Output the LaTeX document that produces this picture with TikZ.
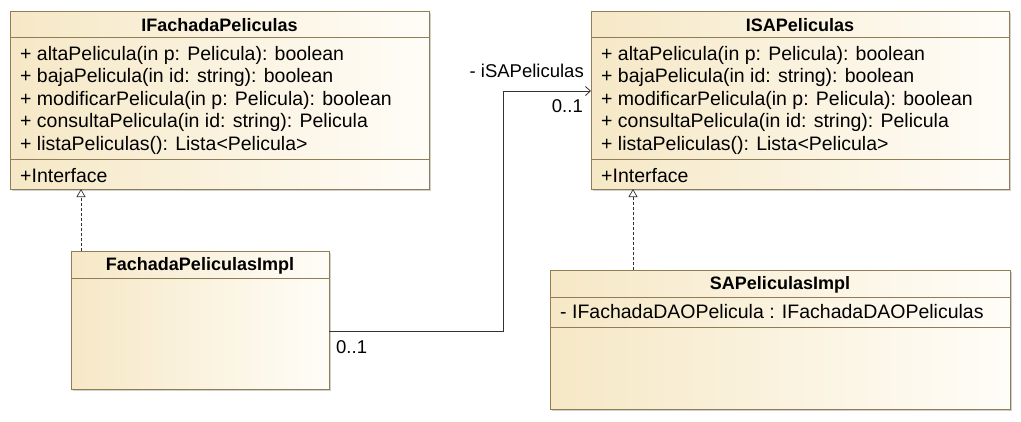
\documentclass[tikz,border=0pt]{standalone}
\usepackage{fontspec}
\setmainfont{Liberation Sans}
\usetikzlibrary{arrows.meta,shadows}
\definecolor{umlborder}{RGB}{145,125,85}
\definecolor{umlleft}{RGB}{246,232,198}
\definecolor{umlright}{RGB}{255,253,248}
\definecolor{linecol}{RGB}{55,50,45}
\begin{document}
\begin{tikzpicture}[x=1pt,y=-1pt,
  classbox/.style={draw=umlborder, line width=0.9pt, left color=umlleft, right color=umlright,
    inner sep=0pt, outer sep=0pt, anchor=north west,
    drop shadow={shadow xshift=1.6pt,shadow yshift=-1.6pt,fill=black!30,opacity=0.6}},
  sepline/.style={draw=umlborder, line width=0.9pt},
  title/.style={font=\fontsize{18}{20}\selectfont\bfseries, inner sep=0pt},
  member/.style={font=\fontsize{19.5}{22}\selectfont, anchor=west, inner sep=0pt, text height=0.72em, text depth=0.2em},
  lbl/.style={font=\fontsize{18.5}{20}\selectfont, inner sep=0pt, text height=0.72em, text depth=0.2em},
  realize/.style={draw=linecol, line width=0.7pt, dash pattern=on 3pt off 2pt,
    -{Triangle[open,length=8pt,width=9pt,fill=white]}},
  assoc/.style={draw=linecol, line width=0.8pt, -{Straight Barb[length=5pt,width=9pt]}}
]
\fill[white] (0,0) rectangle (1021,421);
\useasboundingbox (0,0) rectangle (1021,421);

% IFachadaPeliculas
\node[classbox, minimum width=419pt, minimum height=178pt] (ifp) at (10,11) {};
\draw[sepline] (10,37) -- (429,37);
\draw[sepline] (10,159) -- (429,159);
\node[title] (ifpt) at (219.5,25) {IFachadaPeliculas};
\node[member] (ifp1) at (20,58) {+ altaPelicula(in p: Pelicula): boolean};
\node[member] (ifp2) at (20,80) {+ bajaPelicula(in id: string): boolean};
\node[member] (ifp3) at (20,102.5) {+ modificarPelicula(in p: Pelicula): boolean};
\node[member] (ifp4) at (20,125) {+ consultaPelicula(in id: string): Pelicula};
\node[member] (ifp5) at (20,147.5) {+ listaPeliculas(): Lista<Pelicula>};
\node[member] (ifp6) at (20,180) {+Interface};

% ISAPeliculas
\node[classbox, minimum width=418pt, minimum height=178pt] (isa) at (591,11) {};
\draw[sepline] (591,37) -- (1009,37);
\draw[sepline] (591,159) -- (1009,159);
\node[title] (isat) at (800,25) {ISAPeliculas};
\node[member] (isa1) at (601,58) {+ altaPelicula(in p: Pelicula): boolean};
\node[member] (isa2) at (601,80) {+ bajaPelicula(in id: string): boolean};
\node[member] (isa3) at (601,102.5) {+ modificarPelicula(in p: Pelicula): boolean};
\node[member] (isa4) at (601,125) {+ consultaPelicula(in id: string): Pelicula};
\node[member] (isa5) at (601,147.5) {+ listaPeliculas(): Lista<Pelicula>};
\node[member] (isa6) at (601,180) {+Interface};

% FachadaPeliculasImpl
\node[classbox, minimum width=258pt, minimum height=138pt] (fpi) at (71,251) {};
\draw[sepline] (71,278) -- (329,278);
\node[title] (fpit) at (200,265.5) {FachadaPeliculasImpl};

% SAPeliculasImpl
\node[classbox, minimum width=460pt, minimum height=139pt] (spi) at (550,270) {};
\draw[sepline] (550,297) -- (1010,297);
\draw[sepline] (550,327) -- (1010,327);
\node[title] (spit) at (780,285) {SAPeliculasImpl};
\node[member] (spi1) at (560,316) {- IFachadaDAOPelicula : IFachadaDAOPeliculas};

% realizations
\draw[realize] ([xshift=10pt]fpi.north west) -- ([xshift=10pt]fpi.north west |- ifp.south);
\draw[realize] ([xshift=83pt]spi.north west) -- ([xshift=83pt]spi.north west |- isa.south);

% association
\coordinate (bend) at (503,91);
\draw[assoc] ([yshift=-11pt]fpi.east) -| (bend) -- (isa.west |- bend);
\node[lbl, anchor=east] (role) at (584,75) {- iSAPeliculas};
\node[lbl, anchor=east] (m1) at (583,110) {0..1};
\node[lbl, anchor=west] (m2) at (336,350.5) {0..1};
\end{tikzpicture}
\end{document}
